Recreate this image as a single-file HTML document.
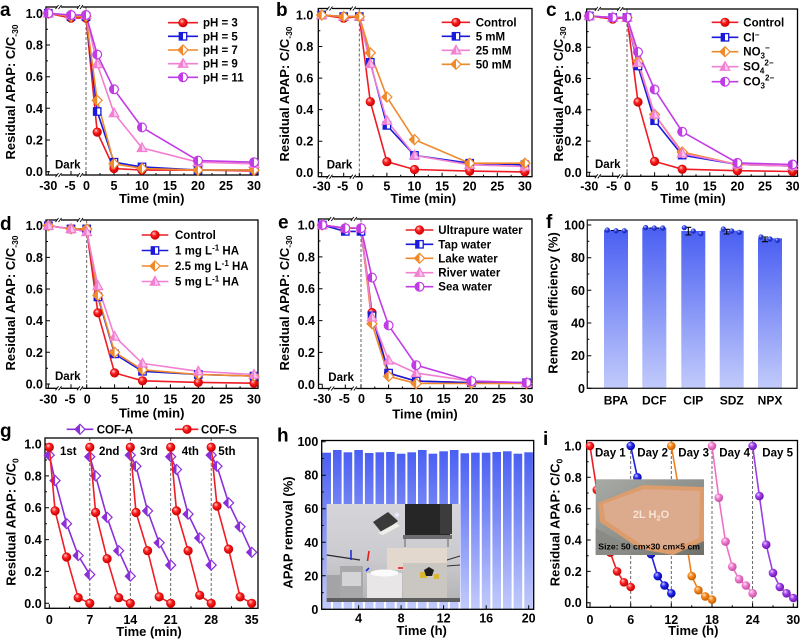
<!DOCTYPE html>
<html><head><meta charset="utf-8">
<style>
html,body{margin:0;padding:0;background:#fff;}
svg{display:block;}
text{font-family:"Liberation Sans",Arial,sans-serif;font-weight:bold;fill:#000;}
.tk{font-size:12.5px;}
.tt{font-size:13px;}
.lg{font-size:11.5px;}
.pl{font-size:19px;}
.ax{fill:none;stroke:#000;stroke-width:1.3;}
.ti{fill:none;stroke:#000;stroke-width:1;}
.ds{stroke:#555;stroke-width:0.9;stroke-dasharray:3,2;fill:none;}
.lr{fill:none;stroke:#ee1c25;stroke-width:1.6;}
.lb{fill:none;stroke:#1a1adb;stroke-width:1.6;}
.lo{fill:none;stroke:#f0892a;stroke-width:1.6;}
.lp{fill:none;stroke:#f27fd2;stroke-width:1.6;}
.lv{fill:none;stroke:#c13be6;stroke-width:1.6;}
.la{fill:none;stroke:#8b2fd8;stroke-width:1.6;}
.li1{fill:none;stroke:#ee1c25;stroke-width:1.6;}
.li2{fill:none;stroke:#2020e0;stroke-width:1.6;}
.li3{fill:none;stroke:#f08020;stroke-width:1.6;}
.li4{fill:none;stroke:#f070c8;stroke-width:1.6;}
.li5{fill:none;stroke:#9a40e0;stroke-width:1.6;}
</style></head>
<body>
<svg width="800" height="641" viewBox="0 0 800 641" xmlns="http://www.w3.org/2000/svg">
<defs>
<radialGradient id="gR" cx="0.42" cy="0.42" r="0.6" fx="0.35" fy="0.3"><stop offset="0" stop-color="#ffd0d0"/><stop offset="0.45" stop-color="#ff2020"/><stop offset="1" stop-color="#c00000"/></radialGradient>
<radialGradient id="gB" cx="0.42" cy="0.42" r="0.6" fx="0.35" fy="0.3"><stop offset="0" stop-color="#d0d0ff"/><stop offset="0.45" stop-color="#2a2af0"/><stop offset="1" stop-color="#0000a0"/></radialGradient>
<radialGradient id="gO" cx="0.42" cy="0.42" r="0.6" fx="0.35" fy="0.3"><stop offset="0" stop-color="#ffe4c8"/><stop offset="0.45" stop-color="#f58a20"/><stop offset="1" stop-color="#c05a00"/></radialGradient>
<radialGradient id="gK" cx="0.42" cy="0.42" r="0.6" fx="0.35" fy="0.3"><stop offset="0" stop-color="#ffe6f6"/><stop offset="0.45" stop-color="#f27fd2"/><stop offset="1" stop-color="#c04aa0"/></radialGradient>
<radialGradient id="gU" cx="0.42" cy="0.42" r="0.6" fx="0.35" fy="0.3"><stop offset="0" stop-color="#ecd4ff"/><stop offset="0.45" stop-color="#a040e8"/><stop offset="1" stop-color="#6a10b0"/></radialGradient>
<radialGradient id="gD" cx="0.42" cy="0.42" r="0.6" fx="0.35" fy="0.3"><stop offset="0" stop-color="#c8d0ff"/><stop offset="0.5" stop-color="#2b3fe6"/><stop offset="1" stop-color="#1020a0"/></radialGradient>
<linearGradient id="bar" x1="0" y1="0" x2="0" y2="1"><stop offset="0" stop-color="#4a5ff2"/><stop offset="1" stop-color="#c2cbfb"/></linearGradient>
<g id="mR"><circle r="4.3" fill="url(#gR)" stroke="#d80000" stroke-width="0.6"/></g>
<g id="mB"><rect x="-3.7" y="-3.7" width="7.4" height="7.4" fill="#fff" stroke="#1a1adb" stroke-width="1.3"/><rect x="-3.7" y="-3.7" width="3.7" height="7.4" fill="#1a1adb"/></g>
<g id="mO"><path d="M0,-5L5,0L0,5L-5,0Z" fill="#fff" stroke="#f0892a" stroke-width="1.2"/><path d="M0,-5L0,5L-5,0Z" fill="#f0892a"/></g>
<g id="mP"><path d="M0,-5L4.8,3.6L-4.8,3.6Z" fill="#f9c8ec" stroke="#f27fd2" stroke-width="1.2"/><path d="M0,-5L0,3.6L-4.8,3.6Z" fill="#f27fd2"/></g>
<g id="mV"><circle r="4.4" fill="#fff" stroke="#c13be6" stroke-width="1.2"/><path d="M0,-4.4A4.4,4.4 0 0 0 0,4.4Z" fill="#c13be6"/></g>
<g id="mA"><path d="M0,-5L5,0L0,5L-5,0Z" fill="#fff" stroke="#8b2fd8" stroke-width="1.2"/><path d="M0,-5L0,5L-5,0Z" fill="#8b2fd8"/></g>
<g id="s1"><circle r="4.3" fill="url(#gR)"/></g>
<g id="s2"><circle r="4.3" fill="url(#gB)"/></g>
<g id="s3"><circle r="4.3" fill="url(#gO)"/></g>
<g id="s4"><circle r="4.3" fill="url(#gK)"/></g>
<g id="s5"><circle r="4.3" fill="url(#gU)"/></g>
<g id="sd"><circle r="2.6" fill="url(#gD)"/></g>
</defs>

<!-- ============ PANEL A ============ -->
<text class="pl" x="0" y="16">a</text>
<line class="ds" x1="86" y1="7" x2="86" y2="175"/>
<rect class="ax" x="46" y="7" width="212" height="168"/>
<path class="ti" d="M46 13.3h4M46 45h4M46 76.7h4M46 108.3h4M46 140h4M46 171.7h4M46 29.2h2M46 60.9h2M46 92.5h2M46 124.2h2M46 155.9h2M48.3 175v-4M71 175v-4M86 175v-4M114 175v-4M142 175v-4M170 175v-4M198 175v-4M226 175v-4M254 175v-4M100 175v-2M128 175v-2M156 175v-2M184 175v-2M212 175v-2M240 175v-2"/>
<g fill="#fff"><rect x="57" y="5" width="4" height="4"/><rect x="78.5" y="5" width="4" height="4"/><rect x="57" y="173" width="4" height="4"/><rect x="78.5" y="173" width="4" height="4"/></g>
<path d="M55.5 9l3-4M58.5 9l3-4M77 9l3-4M80 9l3-4M55.5 177l3-4M58.5 177l3-4M77 177l3-4M80 177l3-4" stroke="#000" stroke-width="0.9"/>
<g class="tk" text-anchor="end"><text x="43" y="17.8">1.0</text><text x="43" y="49.5">0.8</text><text x="43" y="81.2">0.6</text><text x="43" y="112.8">0.4</text><text x="43" y="144.5">0.2</text><text x="43" y="176.2">0.0</text></g>
<g class="tk" text-anchor="middle"><text x="48.3" y="190">-30</text><text x="70" y="190">-5</text><text x="86.5" y="190">0</text><text x="114" y="190">5</text><text x="142" y="190">10</text><text x="170" y="190">15</text><text x="198" y="190">20</text><text x="226" y="190">25</text><text x="254" y="190">30</text></g>
<text class="tt" x="151.7" y="203" text-anchor="middle">Time (min)</text>
<text class="tt" transform="translate(15,92) rotate(-90)" text-anchor="middle">Residual APAP: C/C<tspan dy="3" font-size="8.5">-30</tspan></text>
<text class="lg" x="55" y="168.3">Dark</text>
<polyline class="lr" points="48.3,13.3 71,18.1 86,18.1 97.2,132.1 114,168.5 142,170.1 198,170.1 254,170.9"/>
<polyline class="lb" points="48.3,13.3 71,16.5 86,16.5 97.2,111.5 114,162.2 142,166.9 198,170.1 254,170.1"/>
<polyline class="lo" points="48.3,13.3 71,16.5 86,16.5 97.2,100.4 114,163.8 142,168.5 198,170.1 254,170.1"/>
<polyline class="lp" points="48.3,13.3 71,15 86,15 97.2,64 114,113.1 142,147.9 198,162.2 254,163.8"/>
<polyline class="lv" points="48.3,13.3 71,15 86,15 97.2,54.5 114,89.3 142,127.4 198,160.6 254,162.2"/>
<use href="#mR" x="48.3" y="13.3"/><use href="#mR" x="71" y="18.1"/><use href="#mR" x="86" y="18.1"/><use href="#mR" x="97.2" y="132.1"/><use href="#mR" x="114" y="168.5"/><use href="#mR" x="142" y="170.1"/><use href="#mR" x="198" y="170.1"/><use href="#mR" x="254" y="170.9"/>
<use href="#mB" x="48.3" y="13.3"/><use href="#mB" x="71" y="16.5"/><use href="#mB" x="86" y="16.5"/><use href="#mB" x="97.2" y="111.5"/><use href="#mB" x="114" y="162.2"/><use href="#mB" x="142" y="166.9"/><use href="#mB" x="198" y="170.1"/><use href="#mB" x="254" y="170.1"/>
<use href="#mO" x="48.3" y="13.3"/><use href="#mO" x="71" y="16.5"/><use href="#mO" x="86" y="16.5"/><use href="#mO" x="97.2" y="100.4"/><use href="#mO" x="114" y="163.8"/><use href="#mO" x="142" y="168.5"/><use href="#mO" x="198" y="170.1"/><use href="#mO" x="254" y="170.1"/>
<use href="#mP" x="48.3" y="13.3"/><use href="#mP" x="71" y="15"/><use href="#mP" x="86" y="15"/><use href="#mP" x="97.2" y="64"/><use href="#mP" x="114" y="113.1"/><use href="#mP" x="142" y="147.9"/><use href="#mP" x="198" y="162.2"/><use href="#mP" x="254" y="163.8"/>
<use href="#mV" x="48.3" y="13.3"/><use href="#mV" x="71" y="15"/><use href="#mV" x="86" y="15"/><use href="#mV" x="97.2" y="54.5"/><use href="#mV" x="114" y="89.3"/><use href="#mV" x="142" y="127.4"/><use href="#mV" x="198" y="160.6"/><use href="#mV" x="254" y="162.2"/>
<line class="lr" x1="168" y1="22.7" x2="198" y2="22.7"/><use href="#mR" x="183" y="22.7"/><text class="lg" x="203" y="26.7">pH = 3</text>
<line class="lb" x1="168" y1="36.3" x2="198" y2="36.3"/><use href="#mB" x="183" y="36.3"/><text class="lg" x="203" y="40.3">pH = 5</text>
<line class="lo" x1="168" y1="50" x2="198" y2="50"/><use href="#mO" x="183" y="50"/><text class="lg" x="203" y="54">pH = 7</text>
<line class="lp" x1="168" y1="63.7" x2="198" y2="63.7"/><use href="#mP" x="183" y="63.7"/><text class="lg" x="203" y="67.7">pH = 9</text>
<line class="lv" x1="168" y1="77.3" x2="198" y2="77.3"/><use href="#mV" x="183" y="77.3"/><text class="lg" x="203" y="81.3">pH = 11</text>

<!-- ============ PANEL B ============ -->
<text class="pl" x="276" y="16">b</text>
<line class="ds" x1="359.3" y1="8.5" x2="359.3" y2="176.7"/>
<rect class="ax" x="318.3" y="8.5" width="213.7" height="168.2"/>
<path class="ti" d="M318.3 15h4M318.3 46.5h4M318.3 78.1h4M318.3 109.6h4M318.3 141.2h4M318.3 172.7h4M318.3 30.8h2M318.3 62.3h2M318.3 93.9h2M318.3 125.4h2M318.3 157h2M321.7 176.7v-4M343.7 176.7v-4M359.3 176.7v-4M386.9 176.7v-4M414.5 176.7v-4M442.1 176.7v-4M469.7 176.7v-4M497.3 176.7v-4M524.9 176.7v-4M373.1 176.7v-2M400.7 176.7v-2M428.3 176.7v-2M455.9 176.7v-2M483.5 176.7v-2M511.1 176.7v-2"/>
<g fill="#fff"><rect x="328" y="6.5" width="4" height="4"/><rect x="351.3" y="6.5" width="4" height="4"/><rect x="328" y="174.7" width="4" height="4"/><rect x="351.3" y="174.7" width="4" height="4"/></g>
<path d="M326.5 10.5l3-4M329.5 10.5l3-4M349.8 10.5l3-4M352.8 10.5l3-4M326.5 178.7l3-4M329.5 178.7l3-4M349.8 178.7l3-4M352.8 178.7l3-4" stroke="#000" stroke-width="0.9"/>
<g class="tk" text-anchor="end"><text x="313.3" y="19.5">1.0</text><text x="313.3" y="51">0.8</text><text x="313.3" y="82.6">0.6</text><text x="313.3" y="114.1">0.4</text><text x="313.3" y="145.7">0.2</text><text x="313.3" y="177.2">0.0</text></g>
<g class="tk" text-anchor="middle"><text x="321.7" y="190.7">-30</text><text x="342.7" y="190.7">-5</text><text x="359.8" y="190.7">0</text><text x="386.9" y="190.7">5</text><text x="414.5" y="190.7">10</text><text x="442.1" y="190.7">15</text><text x="469.7" y="190.7">20</text><text x="497.3" y="190.7">25</text><text x="524.9" y="190.7">30</text></g>
<text class="tt" x="423.3" y="203" text-anchor="middle">Time (min)</text>
<text class="tt" transform="translate(289,94) rotate(-90)" text-anchor="middle">Residual APAP: C/C<tspan dy="3" font-size="8.5">-30</tspan></text>
<text class="lg" x="326.7" y="168.3">Dark</text>
<polyline class="lr" points="321.7,15 343.7,18.2 359.3,16.6 370.3,101.7 386.9,161.7 414.5,169.5 469.7,171.1 524.9,171.9"/>
<polyline class="lb" points="321.7,15 343.7,16.6 359.3,16.6 370.3,62.3 386.9,125.4 414.5,155.4 469.7,163.2 524.9,164.8"/>
<polyline class="lp" points="321.7,15 343.7,16.6 359.3,16.6 370.3,63.9 386.9,120.7 414.5,155.4 469.7,164.8 524.9,166.4"/>
<polyline class="lo" points="321.7,15 343.7,16.6 359.3,16.6 370.3,52.9 386.9,97 414.5,139.6 469.7,163.2 524.9,163.2"/>
<use href="#mR" x="321.7" y="15"/><use href="#mR" x="343.7" y="18.2"/><use href="#mR" x="359.3" y="16.6"/><use href="#mR" x="370.3" y="101.7"/><use href="#mR" x="386.9" y="161.7"/><use href="#mR" x="414.5" y="169.5"/><use href="#mR" x="469.7" y="171.1"/><use href="#mR" x="524.9" y="171.9"/>
<use href="#mB" x="321.7" y="15"/><use href="#mB" x="343.7" y="16.6"/><use href="#mB" x="359.3" y="16.6"/><use href="#mB" x="370.3" y="62.3"/><use href="#mB" x="386.9" y="125.4"/><use href="#mB" x="414.5" y="155.4"/><use href="#mB" x="469.7" y="163.2"/><use href="#mB" x="524.9" y="164.8"/>
<use href="#mP" x="321.7" y="15"/><use href="#mP" x="343.7" y="16.6"/><use href="#mP" x="359.3" y="16.6"/><use href="#mP" x="370.3" y="63.9"/><use href="#mP" x="386.9" y="120.7"/><use href="#mP" x="414.5" y="155.4"/><use href="#mP" x="469.7" y="164.8"/><use href="#mP" x="524.9" y="166.4"/>
<use href="#mO" x="321.7" y="15"/><use href="#mO" x="343.7" y="16.6"/><use href="#mO" x="359.3" y="16.6"/><use href="#mO" x="370.3" y="52.9"/><use href="#mO" x="386.9" y="97"/><use href="#mO" x="414.5" y="139.6"/><use href="#mO" x="469.7" y="163.2"/><use href="#mO" x="524.9" y="163.2"/>
<line class="lr" x1="441.7" y1="22.3" x2="470" y2="22.3"/><use href="#mR" x="456" y="22.3"/><text class="lg" x="475.7" y="26.3">Control</text>
<line class="lb" x1="441.7" y1="36.3" x2="470" y2="36.3"/><use href="#mB" x="456" y="36.3"/><text class="lg" x="475.7" y="40.3">5 mM</text>
<line class="lp" x1="441.7" y1="50.3" x2="470" y2="50.3"/><use href="#mP" x="456" y="50.3"/><text class="lg" x="475.7" y="54.3">25 mM</text>
<line class="lo" x1="441.7" y1="64.3" x2="470" y2="64.3"/><use href="#mO" x="456" y="64.3"/><text class="lg" x="475.7" y="68.3">50 mM</text>

<!-- ============ PANEL C ============ -->
<text class="pl" x="546" y="16">c</text>
<line class="ds" x1="627" y1="9" x2="627" y2="176.3"/>
<rect class="ax" x="586.7" y="9" width="210.8" height="167.3"/>
<path class="ti" d="M586.7 16h4M586.7 47.3h4M586.7 78.5h4M586.7 109.8h4M586.7 141.1h4M586.7 172.3h4M586.7 31.6h2M586.7 62.9h2M586.7 94.2h2M586.7 125.4h2M586.7 156.7h2M589.3 176.3v-4M612.7 176.3v-4M627 176.3v-4M654.6 176.3v-4M682.2 176.3v-4M709.8 176.3v-4M737.4 176.3v-4M765 176.3v-4M792.6 176.3v-4M640.8 176.3v-2M668.4 176.3v-2M696 176.3v-2M723.6 176.3v-2M751.2 176.3v-2M778.8 176.3v-2"/>
<g fill="#fff"><rect x="596.3" y="7" width="4" height="4"/><rect x="618.7" y="7" width="4" height="4"/><rect x="596.3" y="174.3" width="4" height="4"/><rect x="618.7" y="174.3" width="4" height="4"/></g>
<path d="M594.8 11l3-4M597.8 11l3-4M617.2 11l3-4M620.2 11l3-4M594.8 178.3l3-4M597.8 178.3l3-4M617.2 178.3l3-4M620.2 178.3l3-4" stroke="#000" stroke-width="0.9"/>
<g class="tk" text-anchor="end"><text x="581.7" y="20.5">1.0</text><text x="581.7" y="51.8">0.8</text><text x="581.7" y="83">0.6</text><text x="581.7" y="114.3">0.4</text><text x="581.7" y="145.6">0.2</text><text x="581.7" y="176.8">0.0</text></g>
<g class="tk" text-anchor="middle"><text x="589.3" y="190.5">-30</text><text x="611.7" y="190.5">-5</text><text x="627.5" y="190.5">0</text><text x="654.6" y="190.5">5</text><text x="682.2" y="190.5">10</text><text x="709.8" y="190.5">15</text><text x="737.4" y="190.5">20</text><text x="765" y="190.5">25</text><text x="792.6" y="190.5">30</text></g>
<text class="tt" x="693" y="203" text-anchor="middle">Time (min)</text>
<text class="tt" transform="translate(563,94) rotate(-90)" text-anchor="middle">Residual APAP: C/C<tspan dy="3" font-size="8.5">-30</tspan></text>
<text class="lg" x="595" y="168">Dark</text>
<polyline class="lr" points="589.3,16 612.7,19.1 627,17.6 638,102 654.6,161.4 682.2,169.2 737.4,170.7 792.6,171.5"/>
<polyline class="lb" points="589.3,16 612.7,17.6 627,17.6 638,66 654.6,120.7 682.2,155.1 737.4,164.5 792.6,166.1"/>
<polyline class="lo" points="589.3,16 612.7,17.6 627,17.6 638,61.3 654.6,114.5 682.2,152 737.4,164.5 792.6,166.1"/>
<polyline class="lp" points="589.3,16 612.7,17.6 627,17.6 638,62.9 654.6,114.5 682.2,153.5 737.4,164.5 792.6,166.1"/>
<polyline class="lv" points="589.3,16 612.7,17.6 627,17.6 638,52 654.6,89.5 682.2,131.7 737.4,162.9 792.6,164.5"/>
<use href="#mR" x="589.3" y="16"/><use href="#mR" x="612.7" y="19.1"/><use href="#mR" x="627" y="17.6"/><use href="#mR" x="638" y="102"/><use href="#mR" x="654.6" y="161.4"/><use href="#mR" x="682.2" y="169.2"/><use href="#mR" x="737.4" y="170.7"/><use href="#mR" x="792.6" y="171.5"/>
<use href="#mB" x="589.3" y="16"/><use href="#mB" x="612.7" y="17.6"/><use href="#mB" x="627" y="17.6"/><use href="#mB" x="638" y="66"/><use href="#mB" x="654.6" y="120.7"/><use href="#mB" x="682.2" y="155.1"/><use href="#mB" x="737.4" y="164.5"/><use href="#mB" x="792.6" y="166.1"/>
<use href="#mO" x="589.3" y="16"/><use href="#mO" x="612.7" y="17.6"/><use href="#mO" x="627" y="17.6"/><use href="#mO" x="638" y="61.3"/><use href="#mO" x="654.6" y="114.5"/><use href="#mO" x="682.2" y="152"/><use href="#mO" x="737.4" y="164.5"/><use href="#mO" x="792.6" y="166.1"/>
<use href="#mP" x="589.3" y="16"/><use href="#mP" x="612.7" y="17.6"/><use href="#mP" x="627" y="17.6"/><use href="#mP" x="638" y="62.9"/><use href="#mP" x="654.6" y="114.5"/><use href="#mP" x="682.2" y="153.5"/><use href="#mP" x="737.4" y="164.5"/><use href="#mP" x="792.6" y="166.1"/>
<use href="#mV" x="589.3" y="16"/><use href="#mV" x="612.7" y="17.6"/><use href="#mV" x="627" y="17.6"/><use href="#mV" x="638" y="52"/><use href="#mV" x="654.6" y="89.5"/><use href="#mV" x="682.2" y="131.7"/><use href="#mV" x="737.4" y="162.9"/><use href="#mV" x="792.6" y="164.5"/>
<line class="lr" x1="711.7" y1="22.3" x2="738.3" y2="22.3"/><use href="#mR" x="725" y="22.3"/><text class="lg" x="743.3" y="26.3">Control</text>
<line class="lb" x1="711.7" y1="37.3" x2="738.3" y2="37.3"/><use href="#mB" x="725" y="37.3"/><text class="lg" x="743.3" y="41.3">Cl<tspan dy="-4" font-size="8">−</tspan></text>
<line class="lo" x1="711.7" y1="51.7" x2="738.3" y2="51.7"/><use href="#mO" x="725" y="51.7"/><text class="lg" x="743.3" y="55.7">NO<tspan dy="3" font-size="8">3</tspan><tspan dy="-8" font-size="8">−</tspan></text>
<line class="lp" x1="711.7" y1="66.7" x2="738.3" y2="66.7"/><use href="#mP" x="725" y="66.7"/><text class="lg" x="743.3" y="70.7">SO<tspan dy="3" font-size="8">4</tspan><tspan dy="-8" font-size="8">2−</tspan></text>
<line class="lv" x1="711.7" y1="81.7" x2="738.3" y2="81.7"/><use href="#mV" x="725" y="81.7"/><text class="lg" x="743.3" y="85.7">CO<tspan dy="3" font-size="8">3</tspan><tspan dy="-8" font-size="8">2−</tspan></text>

<!-- ============ PANEL D ============ -->
<text class="pl" x="0" y="230">d</text>
<line class="ds" x1="86.7" y1="220" x2="86.7" y2="388.3"/>
<rect class="ax" x="46" y="220" width="212" height="168.3"/>
<path class="ti" d="M46 225.7h4M46 257.4h4M46 289h4M46 320.7h4M46 352.3h4M46 384h4M46 241.5h2M46 273.2h2M46 304.9h2M46 336.5h2M46 368.2h2M48.3 388.3v-4M71 388.3v-4M86.7 388.3v-4M114.6 388.3v-4M142.5 388.3v-4M170.4 388.3v-4M198.3 388.3v-4M226.2 388.3v-4M254 388.3v-4M100.6 388.3v-2M128.5 388.3v-2M156.4 388.3v-2M184.3 388.3v-2M212.2 388.3v-2M240.1 388.3v-2"/>
<g fill="#fff"><rect x="57" y="218" width="4" height="4"/><rect x="78.5" y="218" width="4" height="4"/><rect x="57" y="386.3" width="4" height="4"/><rect x="78.5" y="386.3" width="4" height="4"/></g>
<path d="M55.5 222l3-4M58.5 222l3-4M77 222l3-4M80 222l3-4M55.5 390.3l3-4M58.5 390.3l3-4M77 390.3l3-4M80 390.3l3-4" stroke="#000" stroke-width="0.9"/>
<g class="tk" text-anchor="end"><text x="43" y="230.2">1.0</text><text x="43" y="261.9">0.8</text><text x="43" y="293.5">0.6</text><text x="43" y="325.2">0.4</text><text x="43" y="356.8">0.2</text><text x="43" y="388.5">0.0</text></g>
<g class="tk" text-anchor="middle"><text x="48.3" y="403.5">-30</text><text x="70" y="403.5">-5</text><text x="87.2" y="403.5">0</text><text x="114.6" y="403.5">5</text><text x="142.5" y="403.5">10</text><text x="170.4" y="403.5">15</text><text x="198.3" y="403.5">20</text><text x="226.2" y="403.5">25</text><text x="254" y="403.5">30</text></g>
<text class="tt" x="151.7" y="417.7" text-anchor="middle">Time (min)</text>
<text class="tt" transform="translate(15,303) rotate(-90)" text-anchor="middle">Residual APAP: C/C<tspan dy="3" font-size="8.5">-30</tspan></text>
<text class="lg" x="55" y="380">Dark</text>
<polyline class="lr" points="48.3,225.7 71,228.9 86.7,230.4 97.9,312.8 114.6,372.9 142.5,380.8 198.3,382.4 254,383.2"/>
<polyline class="lb" points="48.3,225.7 71,228.9 86.7,228.9 97.9,296.9 114.6,353.9 142.5,371.3 198.3,374.5 254,376.1"/>
<polyline class="lo" points="48.3,225.7 71,228.9 86.7,228.9 97.9,295.4 114.6,352.3 142.5,369.8 198.3,374.5 254,376.1"/>
<polyline class="lp" points="48.3,225.7 71,228.9 86.7,232 97.9,285.9 114.6,336.5 142.5,363.4 198.3,371.3 254,374.5"/>
<use href="#mR" x="48.3" y="225.7"/><use href="#mR" x="71" y="228.9"/><use href="#mR" x="86.7" y="230.4"/><use href="#mR" x="97.9" y="312.8"/><use href="#mR" x="114.6" y="372.9"/><use href="#mR" x="142.5" y="380.8"/><use href="#mR" x="198.3" y="382.4"/><use href="#mR" x="254" y="383.2"/>
<use href="#mB" x="48.3" y="225.7"/><use href="#mB" x="71" y="228.9"/><use href="#mB" x="86.7" y="228.9"/><use href="#mB" x="97.9" y="296.9"/><use href="#mB" x="114.6" y="353.9"/><use href="#mB" x="142.5" y="371.3"/><use href="#mB" x="198.3" y="374.5"/><use href="#mB" x="254" y="376.1"/>
<use href="#mO" x="48.3" y="225.7"/><use href="#mO" x="71" y="228.9"/><use href="#mO" x="86.7" y="228.9"/><use href="#mO" x="97.9" y="295.4"/><use href="#mO" x="114.6" y="352.3"/><use href="#mO" x="142.5" y="369.8"/><use href="#mO" x="198.3" y="374.5"/><use href="#mO" x="254" y="376.1"/>
<use href="#mP" x="48.3" y="225.7"/><use href="#mP" x="71" y="228.9"/><use href="#mP" x="86.7" y="232"/><use href="#mP" x="97.9" y="285.9"/><use href="#mP" x="114.6" y="336.5"/><use href="#mP" x="142.5" y="363.4"/><use href="#mP" x="198.3" y="371.3"/><use href="#mP" x="254" y="374.5"/>
<line class="lr" x1="141.7" y1="235" x2="168.3" y2="235"/><use href="#mR" x="155" y="235"/><text class="lg" x="175" y="239">Control</text>
<line class="lb" x1="141.7" y1="250.5" x2="168.3" y2="250.5"/><use href="#mB" x="155" y="250.5"/><text class="lg" x="175" y="254.5">1 mg L<tspan dy="-4" font-size="8">-1</tspan><tspan dy="4"> HA</tspan></text>
<line class="lo" x1="141.7" y1="266" x2="168.3" y2="266"/><use href="#mO" x="155" y="266"/><text class="lg" x="175" y="270">2.5 mg L<tspan dy="-4" font-size="8">-1</tspan><tspan dy="4"> HA</tspan></text>
<line class="lp" x1="141.7" y1="281.5" x2="168.3" y2="281.5"/><use href="#mP" x="155" y="281.5"/><text class="lg" x="175" y="285.5">5 mg L<tspan dy="-4" font-size="8">-1</tspan><tspan dy="4"> HA</tspan></text>

<!-- ============ PANEL E ============ -->
<text class="pl" x="278" y="228.5">e</text>
<line class="ds" x1="361" y1="219" x2="361" y2="388.5"/>
<rect class="ax" x="318.5" y="219" width="213.5" height="169.5"/>
<path class="ti" d="M318.5 225h4M318.5 256.9h4M318.5 288.7h4M318.5 320.6h4M318.5 352.4h4M318.5 384.3h4M318.5 241h2M318.5 272.8h2M318.5 304.7h2M318.5 336.5h2M318.5 368.4h2M322.3 388.5v-4M345.3 388.5v-4M361 388.5v-4M388.6 388.5v-4M416.2 388.5v-4M443.8 388.5v-4M471.4 388.5v-4M499 388.5v-4M526.6 388.5v-4M374.8 388.5v-2M402.4 388.5v-2M430 388.5v-2M457.6 388.5v-2M485.2 388.5v-2M512.8 388.5v-2"/>
<g fill="#fff"><rect x="329.7" y="217" width="4" height="4"/><rect x="352.3" y="217" width="4" height="4"/><rect x="329.7" y="386.5" width="4" height="4"/><rect x="352.3" y="386.5" width="4" height="4"/></g>
<path d="M328.2 221l3-4M331.2 221l3-4M350.8 221l3-4M353.8 221l3-4M328.2 390.5l3-4M331.2 390.5l3-4M350.8 390.5l3-4M353.8 390.5l3-4" stroke="#000" stroke-width="0.9"/>
<g class="tk" text-anchor="end"><text x="315" y="229.5">1.0</text><text x="315" y="261.4">0.8</text><text x="315" y="293.2">0.6</text><text x="315" y="325.1">0.4</text><text x="315" y="356.9">0.2</text><text x="315" y="388.8">0.0</text></g>
<g class="tk" text-anchor="middle"><text x="322.3" y="403">-30</text><text x="344.3" y="403">-5</text><text x="361.5" y="403">0</text><text x="388.6" y="403">5</text><text x="416.2" y="403">10</text><text x="443.8" y="403">15</text><text x="471.4" y="403">20</text><text x="499" y="403">25</text><text x="526.6" y="403">30</text></g>
<text class="tt" x="425" y="418.3" text-anchor="middle">Time (min)</text>
<text class="tt" transform="translate(289,303) rotate(-90)" text-anchor="middle">Residual APAP: C/C<tspan dy="3" font-size="8.5">-30</tspan></text>
<text class="lg" x="328.3" y="381">Dark</text>
<polyline class="lr" points="322.3,225 345.3,228.2 361,228.2 372,312.6 388.6,373.1 416.2,381.1 471.4,382.7 526.6,382.7"/>
<polyline class="lb" points="322.3,225 345.3,231.4 361,231.4 372,315.8 388.6,373.1 416.2,381.1 471.4,382.7 526.6,382.7"/>
<polyline class="lo" points="322.3,225 345.3,228.2 361,228.2 372,323.8 388.6,376.3 416.2,383.5 471.4,383.5 526.6,383.5"/>
<polyline class="lp" points="322.3,225 345.3,228.2 361,228.2 372,317.4 388.6,360.4 416.2,373.1 471.4,381.1 526.6,382.7"/>
<polyline class="lv" points="322.3,225 345.3,228.2 361,228.2 372,277.6 388.6,325.4 416.2,365.2 471.4,381.1 526.6,382.7"/>
<use href="#mR" x="322.3" y="225"/><use href="#mR" x="345.3" y="228.2"/><use href="#mR" x="361" y="228.2"/><use href="#mR" x="372" y="312.6"/><use href="#mR" x="388.6" y="373.1"/><use href="#mR" x="416.2" y="381.1"/><use href="#mR" x="471.4" y="382.7"/><use href="#mR" x="526.6" y="382.7"/>
<use href="#mB" x="322.3" y="225"/><use href="#mB" x="345.3" y="231.4"/><use href="#mB" x="361" y="231.4"/><use href="#mB" x="372" y="315.8"/><use href="#mB" x="388.6" y="373.1"/><use href="#mB" x="416.2" y="381.1"/><use href="#mB" x="471.4" y="382.7"/><use href="#mB" x="526.6" y="382.7"/>
<use href="#mO" x="322.3" y="225"/><use href="#mO" x="345.3" y="228.2"/><use href="#mO" x="361" y="228.2"/><use href="#mO" x="372" y="323.8"/><use href="#mO" x="388.6" y="376.3"/><use href="#mO" x="416.2" y="383.5"/><use href="#mO" x="471.4" y="383.5"/><use href="#mO" x="526.6" y="383.5"/>
<use href="#mP" x="322.3" y="225"/><use href="#mP" x="345.3" y="228.2"/><use href="#mP" x="361" y="228.2"/><use href="#mP" x="372" y="317.4"/><use href="#mP" x="388.6" y="360.4"/><use href="#mP" x="416.2" y="373.1"/><use href="#mP" x="471.4" y="381.1"/><use href="#mP" x="526.6" y="382.7"/>
<use href="#mV" x="322.3" y="225"/><use href="#mV" x="345.3" y="228.2"/><use href="#mV" x="361" y="228.2"/><use href="#mV" x="372" y="277.6"/><use href="#mV" x="388.6" y="325.4"/><use href="#mV" x="416.2" y="365.2"/><use href="#mV" x="471.4" y="381.1"/><use href="#mV" x="526.6" y="382.7"/>
<line class="lr" x1="405.7" y1="230" x2="433.3" y2="230"/><use href="#mR" x="419.5" y="230"/><text class="lg" x="438.3" y="234">Ultrapure water</text>
<line class="lb" x1="405.7" y1="244.3" x2="433.3" y2="244.3"/><use href="#mB" x="419.5" y="244.3"/><text class="lg" x="438.3" y="248.3">Tap water</text>
<line class="lo" x1="405.7" y1="258.3" x2="433.3" y2="258.3"/><use href="#mO" x="419.5" y="258.3"/><text class="lg" x="438.3" y="262.3">Lake water</text>
<line class="lp" x1="405.7" y1="272.7" x2="433.3" y2="272.7"/><use href="#mP" x="419.5" y="272.7"/><text class="lg" x="438.3" y="276.7">River water</text>
<line class="lv" x1="405.7" y1="286.7" x2="433.3" y2="286.7"/><use href="#mV" x="419.5" y="286.7"/><text class="lg" x="438.3" y="290.7">Sea water</text>

<!-- ============ PANEL F ============ -->
<text class="pl" x="546" y="228">f</text>
<g fill="url(#bar)">
<rect x="604" y="230" width="24" height="158.3"/>
<rect x="642.3" y="227.7" width="24" height="160.6"/>
<rect x="681.3" y="231" width="24" height="157.3"/>
<rect x="719.7" y="230.7" width="24" height="157.6"/>
<rect x="758" y="238.3" width="24" height="150"/>
</g>
<rect x="587.3" y="220" width="209.7" height="168.3" fill="none" stroke="#222" stroke-width="1.3"/>
<path class="ti" d="M587.3 225h4M587.3 257.7h4M587.3 290.3h4M587.3 323h4M587.3 355.7h4M587.3 388.3h4M587.3 241.3h2M587.3 274h2M587.3 306.7h2M587.3 339.3h2M587.3 372h2"/>
<path d="M611 230.5h10M649.3 228h10M688.3 227.3v7.7M685.3 227.3h6M685.3 235h6M726.7 229.3v4.7M723.7 229.3h6M723.7 234h6M765 237v4.7M762 237h6M762 241.7h6" stroke="#000" stroke-width="1.1" fill="none"/>
<use href="#sd" x="607.3" y="230"/><use href="#sd" x="616" y="230.7"/><use href="#sd" x="624.3" y="230.7"/>
<use href="#sd" x="645.7" y="227.5"/><use href="#sd" x="654.3" y="228"/><use href="#sd" x="662.7" y="228"/>
<use href="#sd" x="684.3" y="227.7"/><use href="#sd" x="693.3" y="231"/><use href="#sd" x="700.7" y="233.7"/>
<use href="#sd" x="723.3" y="229"/><use href="#sd" x="731.7" y="231"/><use href="#sd" x="739.3" y="232.3"/>
<use href="#sd" x="761" y="237"/><use href="#sd" x="770" y="239"/><use href="#sd" x="777.3" y="240.3"/>
<g class="tk" text-anchor="end"><text x="585" y="229.5">100</text><text x="585" y="262.2">80</text><text x="585" y="294.8">60</text><text x="585" y="327.5">40</text><text x="585" y="360.2">20</text><text x="585" y="392.8">0</text></g>
<g font-size="12px" text-anchor="middle"><text x="616" y="404.3">BPA</text><text x="654.3" y="404.3">DCF</text><text x="693.3" y="404.3">CIP</text><text x="731.7" y="404.3">SDZ</text><text x="770" y="404.3">NPX</text></g>
<text class="tt" transform="translate(557.5,303) rotate(-90)" text-anchor="middle">Removal efficiency (%)</text>

<!-- ============ PANEL G ============ -->
<text class="pl" x="0" y="437">g</text>
<line class="la" x1="66.7" y1="429.3" x2="93.3" y2="429.3"/><use href="#mA" x="80" y="429.3"/><text class="lg" x="96.7" y="433.3">COF-A</text>
<line class="lr" x1="175" y1="429.3" x2="198.3" y2="429.3"/><use href="#mR" x="187" y="429.3"/><text class="lg" x="201" y="433.3">COF-S</text>
<path class="ds" d="M89.8 438V608.3M130.3 438V608.3M170.7 438V608.3M211.2 438V608.3"/>
<rect class="ax" x="45" y="438" width="213" height="170.3"/>
<path class="ti" d="M45 444h4M45 475.9h4M45 507.7h4M45 539.6h4M45 571.4h4M45 603.3h4M45 460h2M45 491.8h2M45 523.7h2M45 555.5h2M45 587.4h2M49.3 608.3v-4M89.8 608.3v-4M130.3 608.3v-4M170.7 608.3v-4M211.2 608.3v-4M251.7 608.3v-4M69.6 608.3v-2M110 608.3v-2M150.5 608.3v-2M191 608.3v-2M231.5 608.3v-2"/>
<g class="tk" text-anchor="end"><text x="41.7" y="448.5">1.0</text><text x="41.7" y="480.4">0.8</text><text x="41.7" y="512.2">0.6</text><text x="41.7" y="544.1">0.4</text><text x="41.7" y="575.9">0.2</text><text x="41.7" y="607.8">0.0</text></g>
<g class="tk" text-anchor="middle"><text x="49.3" y="624">0</text><text x="89.8" y="624">7</text><text x="130.3" y="624">14</text><text x="170.7" y="624">21</text><text x="211.2" y="624">28</text><text x="251.7" y="624">35</text></g>
<text class="tt" x="149" y="636" text-anchor="middle">Time (min)</text>
<text class="tt" transform="translate(15.5,522) rotate(-90)" text-anchor="middle">Residual APAP: C/C<tspan dy="3" font-size="8.5">0</tspan></text>
<g class="lg"><text x="60" y="455">1st</text><text x="99" y="455">2nd</text><text x="140" y="455">3rd</text><text x="181.7" y="455">4th</text><text x="218.3" y="455">5th</text></g>
<polyline class="la" points="49.3,455.1 55.1,480.6 66.6,523.7 78.2,555.5 89.8,574.6"/>
<polyline class="la" points="89.8,456.7 95.6,475.9 107.1,517.3 118.7,550.7 130.3,576.2"/>
<polyline class="la" points="130.3,455.1 136,466.3 147.6,510.9 159.2,542.8 170.7,565.1"/>
<polyline class="la" points="170.7,456.7 176.5,469.5 188.1,514.1 199.7,538 211.2,565.1"/>
<polyline class="la" points="211.2,455.1 217,466.3 228.6,502.9 240.1,526.8 251.7,552.3"/>
<use href="#mA" x="49.3" y="455.1"/><use href="#mA" x="55.1" y="480.6"/><use href="#mA" x="66.6" y="523.7"/><use href="#mA" x="78.2" y="555.5"/><use href="#mA" x="89.8" y="574.6"/>
<use href="#mA" x="89.8" y="456.7"/><use href="#mA" x="95.6" y="475.9"/><use href="#mA" x="107.1" y="517.3"/><use href="#mA" x="118.7" y="550.7"/><use href="#mA" x="130.3" y="576.2"/>
<use href="#mA" x="130.3" y="455.1"/><use href="#mA" x="136" y="466.3"/><use href="#mA" x="147.6" y="510.9"/><use href="#mA" x="159.2" y="542.8"/><use href="#mA" x="170.7" y="565.1"/>
<use href="#mA" x="170.7" y="456.7"/><use href="#mA" x="176.5" y="469.5"/><use href="#mA" x="188.1" y="514.1"/><use href="#mA" x="199.7" y="538"/><use href="#mA" x="211.2" y="565.1"/>
<use href="#mA" x="211.2" y="455.1"/><use href="#mA" x="217" y="466.3"/><use href="#mA" x="228.6" y="502.9"/><use href="#mA" x="240.1" y="526.8"/><use href="#mA" x="251.7" y="552.3"/>
<polyline class="lr" points="49.3,447.2 55.1,510.9 66.6,557.1 78.2,597.7 89.8,603.3"/>
<polyline class="lr" points="89.8,447.2 95.6,512.5 107.1,558.7 118.7,597.7 130.3,603.3"/>
<polyline class="lr" points="130.3,447.2 136,512.5 147.6,550.7 159.2,596.9 170.7,603.3"/>
<polyline class="lr" points="170.7,447.2 176.5,510.9 188.1,550.7 199.7,595.3 211.2,603.3"/>
<polyline class="lr" points="211.2,447.2 217,506.1 228.6,549.1 240.1,596.9 251.7,603.3"/>
<use href="#mR" x="49.3" y="447.2"/><use href="#mR" x="55.1" y="510.9"/><use href="#mR" x="66.6" y="557.1"/><use href="#mR" x="78.2" y="597.7"/><use href="#mR" x="89.8" y="603.3"/>
<use href="#mR" x="89.8" y="447.2"/><use href="#mR" x="95.6" y="512.5"/><use href="#mR" x="107.1" y="558.7"/><use href="#mR" x="118.7" y="597.7"/><use href="#mR" x="130.3" y="603.3"/>
<use href="#mR" x="130.3" y="447.2"/><use href="#mR" x="136" y="512.5"/><use href="#mR" x="147.6" y="550.7"/><use href="#mR" x="159.2" y="596.9"/><use href="#mR" x="170.7" y="603.3"/>
<use href="#mR" x="170.7" y="447.2"/><use href="#mR" x="176.5" y="510.9"/><use href="#mR" x="188.1" y="550.7"/><use href="#mR" x="199.7" y="595.3"/><use href="#mR" x="211.2" y="603.3"/>
<use href="#mR" x="211.2" y="447.2"/><use href="#mR" x="217" y="506.1"/><use href="#mR" x="228.6" y="549.1"/><use href="#mR" x="240.1" y="596.9"/><use href="#mR" x="251.7" y="603.3"/>

<!-- ============ PANEL H ============ -->
<text class="pl" x="277" y="441.7">h</text>
<g fill="url(#bar)">
<rect x="322.4" y="452.7" width="8.6" height="156.6"/>
<rect x="333" y="450" width="8.6" height="159.3"/>
<rect x="343.6" y="452.3" width="8.6" height="157"/>
<rect x="354.3" y="450" width="8.6" height="159.3"/>
<rect x="364.9" y="453" width="8.6" height="156.3"/>
<rect x="375.5" y="452.3" width="8.6" height="157"/>
<rect x="386.1" y="452" width="8.6" height="157.3"/>
<rect x="396.8" y="453.7" width="8.6" height="155.6"/>
<rect x="407.4" y="452.3" width="8.6" height="157"/>
<rect x="418" y="450" width="8.6" height="159.3"/>
<rect x="428.6" y="453.7" width="8.6" height="155.6"/>
<rect x="439.3" y="451.3" width="8.6" height="158"/>
<rect x="449.9" y="450" width="8.6" height="159.3"/>
<rect x="460.5" y="453.3" width="8.6" height="156"/>
<rect x="471.1" y="452.7" width="8.6" height="156.6"/>
<rect x="481.8" y="452.7" width="8.6" height="156.6"/>
<rect x="492.4" y="452" width="8.6" height="157.3"/>
<rect x="503" y="451.3" width="8.6" height="158"/>
<rect x="513.6" y="453.7" width="8.6" height="155.6"/>
<rect x="524.3" y="452.3" width="8.6" height="157"/>
</g>
<!-- inset photo -->
<g>
<defs><linearGradient id="ph1" x1="0" y1="0" x2="0" y2="1"><stop offset="0" stop-color="#d6d6da"/><stop offset="0.55" stop-color="#cbcbcf"/><stop offset="1" stop-color="#b4b3b4"/></linearGradient></defs>
<rect x="326.7" y="504" width="133.3" height="98" fill="url(#ph1)"/>
<rect x="326.7" y="575" width="14" height="27" fill="#a4a4a6"/>
<path d="M405 504H450V535H405Z" fill="#262626"/>
<path d="M440 504H452V534H440Z" fill="#3c3c3c"/>
<path d="M403 535H452V539H403Z" fill="#6e6e70"/>
<path d="M405 539V547M448 539V547" stroke="#777" stroke-width="1.2"/>
<path d="M373 522L388 512L398 521L382 533Z" fill="#3a3a3a"/>
<path d="M378 533L396 523L400 526L383 535Z" fill="#f0eee8"/>
<circle cx="397" cy="515" r="2.2" fill="#e8e8ff"/>
<path d="M326.7 555L360 560" stroke="#2a2a2a" stroke-width="1.2"/>
<path d="M447 560L460 556M447 566L460 565" stroke="#333" stroke-width="1.1"/>
<rect x="387" y="548" width="60" height="22" fill="#e2d8cd"/>
<rect x="340" y="566" width="23" height="34" fill="#a8a8aa"/>
<rect x="342" y="572" width="19" height="14" fill="#d4d4d6"/>
<rect x="367" y="573" width="35" height="27" fill="#e8e6e6"/>
<ellipse cx="384.5" cy="573" rx="14" ry="3.5" fill="#fbfbfb"/>
<rect x="403" y="563" width="44" height="35" fill="#cac6c2"/>
<rect x="420" y="572" width="7" height="6" fill="#d8b830"/>
<rect x="434" y="574" width="5" height="5" fill="#d8b830"/>
<path d="M424 570l5-3 5 3-2 6-6 0Z" fill="#1e1e1e"/>
<rect x="326.7" y="598" width="133.3" height="4" fill="#5e5e5e"/>
<path d="M351 550v10" stroke="#2030e0" stroke-width="1.6"/>
<path d="M369 551l-1.5 10" stroke="#e02020" stroke-width="1.6"/>
<path d="M366 571l3-3" stroke="#2030e0" stroke-width="1.6"/>
<path d="M398 568h5" stroke="#e02020" stroke-width="1.6"/>
</g>
<rect class="ax" x="321.7" y="440.5" width="212" height="168.8"/>
<path class="ti" d="M321.7 441.7h4M321.7 475.2h4M321.7 508.7h4M321.7 542.3h4M321.7 575.8h4M321.7 609.3h4M321.7 458.5h2M321.7 492h2M321.7 525.5h2M321.7 559h2M321.7 592.6h2M358.6 609.3v-4M401.1 609.3v-4M443.6 609.3v-4M486.2 609.3v-4M528.7 609.3v-4"/>
<g class="tk" text-anchor="end"><text x="318.3" y="446.2">100</text><text x="318.3" y="479.7">80</text><text x="318.3" y="513.2">60</text><text x="318.3" y="546.8">40</text><text x="318.3" y="580.3">20</text><text x="318.3" y="613.8">0</text></g>
<g class="tk" text-anchor="middle"><text x="358.6" y="622.7">4</text><text x="401.1" y="622.7">8</text><text x="443.6" y="622.7">12</text><text x="486.2" y="622.7">16</text><text x="528.7" y="622.7">20</text></g>
<text class="tt" x="421.7" y="635" text-anchor="middle">Time (h)</text>
<text class="tt" transform="translate(292.5,532.5) rotate(-90)" text-anchor="middle">APAP removal (%)</text>

<!-- ============ PANEL I ============ -->
<text class="pl" x="543" y="445">i</text>
<path class="ds" d="M630.7 441V607.3M671.3 441V607.3M712 441V607.3M752.6 441V607.3"/>
<rect class="ax" x="586.7" y="440.5" width="210.8" height="166.8"/>
<path class="ti" d="M586.7 446h4M586.7 477.3h4M586.7 508.7h4M586.7 540h4M586.7 571.4h4M586.7 602.7h4M586.7 461.7h2M586.7 493h2M586.7 524.3h2M586.7 555.7h2M586.7 587h2M590 607.3v-4M630.7 607.3v-4M671.3 607.3v-4M712 607.3v-4M752.6 607.3v-4M793.3 607.3v-4M610.3 607.3v-2M651 607.3v-2M691.7 607.3v-2M732.3 607.3v-2M773 607.3v-2"/>
<g class="tk" text-anchor="end"><text x="581.7" y="450.5">1.0</text><text x="581.7" y="481.8">0.8</text><text x="581.7" y="513.2">0.6</text><text x="581.7" y="544.5">0.4</text><text x="581.7" y="575.9">0.2</text><text x="581.7" y="607.2">0.0</text></g>
<g class="tk" text-anchor="middle"><text x="590" y="624">0</text><text x="630.7" y="624">6</text><text x="671.3" y="624">12</text><text x="712" y="624">18</text><text x="752.6" y="624">24</text><text x="793.3" y="624">30</text></g>
<text class="tt" x="693.3" y="635" text-anchor="middle">Time (h)</text>
<text class="tt" transform="translate(559.5,522.5) rotate(-90)" text-anchor="middle">Residual APAP: C/C<tspan dy="3" font-size="8.5">0</tspan></text>
<polyline class="li1" points="590,446 596.8,489.9 603.6,521.2 610.3,552.6 617.1,571.4 623.9,582.3 630.7,587"/>
<polyline class="li2" points="630.7,446 637.4,477.3 644.2,516.5 651,554.1 657.8,576.1 664.5,585.5 671.3,593.3"/>
<polyline class="li3" points="671.3,446 678.1,485.2 684.9,532.2 691.7,576.1 698.4,590.2 705.2,596.4 712,599.6"/>
<polyline class="li4" points="712,446 718.8,497.7 725.5,541.6 732.3,566.7 739.1,579.2 745.9,585.5 752.6,593.3"/>
<polyline class="li5" points="752.6,446 759.4,496.1 766.2,544.7 773,572.9 779.8,587 786.5,593.3 793.3,598"/>
<use href="#s1" x="590" y="446"/><use href="#s1" x="596.8" y="489.9"/><use href="#s1" x="603.6" y="521.2"/><use href="#s1" x="610.3" y="552.6"/><use href="#s1" x="617.1" y="571.4"/><use href="#s1" x="623.9" y="582.3"/><use href="#s1" x="630.7" y="587"/>
<use href="#s2" x="630.7" y="446"/><use href="#s2" x="637.4" y="477.3"/><use href="#s2" x="644.2" y="516.5"/><use href="#s2" x="651" y="554.1"/><use href="#s2" x="657.8" y="576.1"/><use href="#s2" x="664.5" y="585.5"/><use href="#s2" x="671.3" y="593.3"/>
<use href="#s3" x="671.3" y="446"/><use href="#s3" x="678.1" y="485.2"/><use href="#s3" x="684.9" y="532.2"/><use href="#s3" x="691.7" y="576.1"/><use href="#s3" x="698.4" y="590.2"/><use href="#s3" x="705.2" y="596.4"/><use href="#s3" x="712" y="599.6"/>
<use href="#s4" x="712" y="446"/><use href="#s4" x="718.8" y="497.7"/><use href="#s4" x="725.5" y="541.6"/><use href="#s4" x="732.3" y="566.7"/><use href="#s4" x="739.1" y="579.2"/><use href="#s4" x="745.9" y="585.5"/><use href="#s4" x="752.6" y="593.3"/>
<use href="#s5" x="752.6" y="446"/><use href="#s5" x="759.4" y="496.1"/><use href="#s5" x="766.2" y="544.7"/><use href="#s5" x="773" y="572.9"/><use href="#s5" x="779.8" y="587"/><use href="#s5" x="786.5" y="593.3"/><use href="#s5" x="793.3" y="598"/>
<!-- inset photo i -->
<g>
<defs><linearGradient id="ph2" x1="0" y1="0" x2="1" y2="1"><stop offset="0" stop-color="#a8aaa6"/><stop offset="0.6" stop-color="#8a8c88"/><stop offset="1" stop-color="#6e7068"/></linearGradient></defs>
<rect x="595.7" y="479.3" width="108.3" height="75.7" fill="url(#ph2)"/>
<path d="M598 503L643 485L704 487L704 541L673 555L640 549L600 522Z" fill="#dd9c6c"/>
<path d="M603 504L644 489L700 491L699 538L672 550L642 545L605 520Z" fill="#dcaa8c"/>
<path d="M595.7 528L640 552L595.7 555Z" fill="#8a8a86"/>
<text x="651" y="518" font-size="11px" text-anchor="middle" fill="#f6e4d6" style="fill:#f6e4d6">2L H<tspan dy="2.5" font-size="7.5">2</tspan><tspan dy="-2.5">O</tspan></text>
<text x="598.3" y="549.3" font-size="8px" textLength="101.7" lengthAdjust="spacingAndGlyphs">Size: 50 cm×30 cm×5 cm</text>
</g>
<g class="lg"><text x="595" y="456.7">Day 1</text><text x="637.3" y="456.7">Day 2</text><text x="678.3" y="456.7">Day 3</text><text x="719.3" y="456.7">Day 4</text><text x="762.3" y="456.7">Day 5</text></g>
</svg>
</body></html>
